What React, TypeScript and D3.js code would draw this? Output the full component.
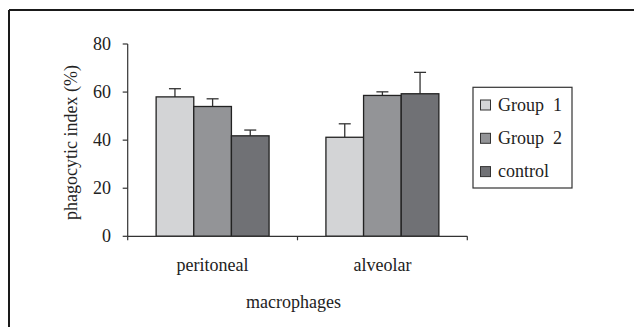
import React from "react";
import * as d3 from "d3";

const categories = ["peritoneal", "alveolar"];
const seriesNames = ["Group  1", "Group  2", "control"];
const seriesColors = ["#d3d4d6", "#939497", "#707175"];
const means = [
  [58, 41.2],
  [54, 58.6],
  [41.8, 59.3],
];
const errors = [
  [3.4, 5.6],
  [3.2, 1.5],
  [2.4, 8.9],
];
const yTicks = [0, 20, 40, 60, 80];

const W = 634;
const H = 327;
const FONT = "'Liberation Serif', 'Times New Roman', serif";

export default function App() {
  const x = d3.scaleBand<string>().domain(categories).range([127.7, 467.3]).paddingInner(0).paddingOuter(0);
  const xi = d3
    .scaleBand<string>()
    .domain(seriesNames)
    .range([0, x.bandwidth()])
    .paddingInner(0)
    .paddingOuter(0.755);
  const y = d3.scaleLinear().domain([0, 80]).range([236.3, 44]);
  const x0 = 127.7;
  const x1 = 467.3;
  const y0 = y(0);

  return (
    <svg
      width={W}
      height={H}
      style={{ position: "absolute", left: 0, top: 0, background: "#fff" }}
      fontFamily={FONT}
    >
      {/* outer frame (only top & left visible) */}
      <line x1={9} y1={10} x2={W} y2={10} stroke="#1a1a1a" strokeWidth={2} />
      <line x1={9} y1={10} x2={9} y2={H} stroke="#1a1a1a" strokeWidth={2} />

      {/* bars */}
      {seriesNames.map((s, si) =>
        categories.map((c, ci) => {
          const bx = (x(c) as number) + (xi(s) as number);
          const bw = xi.bandwidth();
          const v = means[si][ci];
          const e = errors[si][ci];
          const cx = bx + bw / 2;
          return (
            <g key={s + c}>
              <line x1={cx} x2={cx} y1={y(v)} y2={y(v + e)} stroke="#333" strokeWidth={1.3} />
              <line x1={cx - 6} x2={cx + 6} y1={y(v + e)} y2={y(v + e)} stroke="#333" strokeWidth={1.3} />
              <rect
                x={bx}
                y={y(v)}
                width={bw}
                height={y0 - y(v)}
                fill={seriesColors[si]}
                stroke="#222"
                strokeWidth={1.3}
              />
            </g>
          );
        })
      )}

      {/* y axis */}
      <line x1={x0} x2={x0} y1={y(80)} y2={y0} stroke="#333" strokeWidth={1.2} />
      {yTicks.map((t) => (
        <g key={t}>
          <line x1={x0 - 5} x2={x0} y1={y(t)} y2={y(t)} stroke="#333" strokeWidth={1.2} />
          <text x={111} y={y(t) + 6} textAnchor="end" fontSize={18} fill="#222">
            {t}
          </text>
        </g>
      ))}

      {/* x axis */}
      <line x1={x0} x2={x1} y1={y0} y2={y0} stroke="#333" strokeWidth={1.2} />
      {[x0, ...categories.map((c) => (x(c) as number) + x.bandwidth())].map((px, i) => (
        <line key={i} x1={px} x2={px} y1={y0} y2={y0 + 4} stroke="#333" strokeWidth={1.2} />
      ))}
      {categories.map((c) => (
        <text
          key={c}
          x={(x(c) as number) + x.bandwidth() / 2}
          y={271}
          textAnchor="middle"
          fontSize={18}
          fill="#222"
        >
          {c}
        </text>
      ))}
      <text x={(x0 + x1) / 2 - 4} y={308} textAnchor="middle" fontSize={18} fill="#222">
        macrophages
      </text>

      {/* y label */}
      <text
        transform={`translate(77,142.5) rotate(-90)`}
        textAnchor="middle"
        fontSize={18}
        fill="#222"
      >
        phagocytic index (%)
      </text>

      {/* legend */}
      <rect x={473} y={87.3} width={99} height={100.7} fill="#fff" stroke="#333" strokeWidth={1.2} />
      {seriesNames.map((s, i) => (
        <g key={s}>
          <rect
            x={480.5}
            y={100 + i * 33.3}
            width={10}
            height={10}
            fill={seriesColors[i]}
            stroke="#333"
            strokeWidth={1}
          />
          <text x={498} y={110.5 + i * 33.3} fontSize={18} fill="#222" style={{ whiteSpace: "pre" }}>
            {s}
          </text>
        </g>
      ))}
    </svg>
  );
}
